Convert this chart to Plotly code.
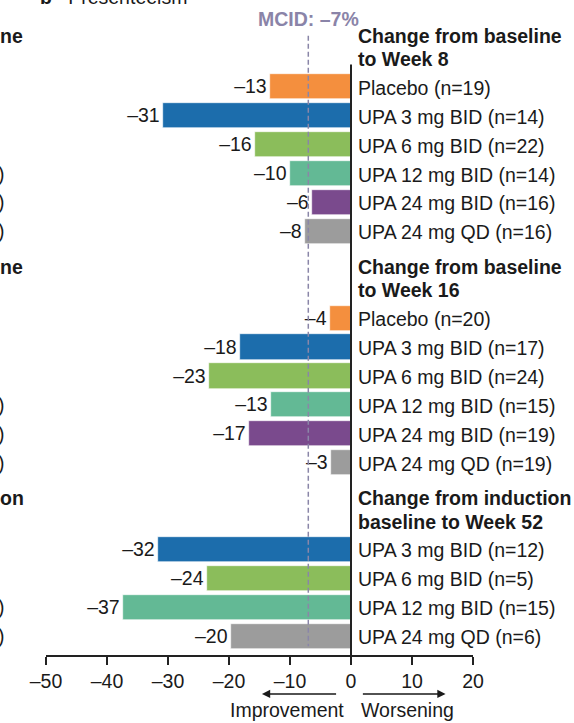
import plotly.graph_objects as go

# ---------------- data ----------------
w8_labels = ["Placebo (n=19)", "UPA 3 mg BID (n=14)", "UPA 6 mg BID (n=22)",
             "UPA 12 mg BID (n=14)", "UPA 24 mg BID (n=16)", "UPA 24 mg QD (n=16)"]
w8_values = [-13, -31, -16, -10, -6, -8]
w8_bar = [-13.2, -30.8, -15.8, -10.0, -6.4, -7.6]

w16_labels = ["Placebo (n=20)", "UPA 3 mg BID (n=17)", "UPA 6 mg BID (n=24)",
              "UPA 12 mg BID (n=15)", "UPA 24 mg BID (n=19)", "UPA 24 mg QD (n=19)"]
w16_values = [-4, -18, -23, -13, -17, -3]
w16_bar = [-3.5, -18.2, -23.2, -13.1, -16.8, -3.2]

w52_labels = ["UPA 3 mg BID (n=12)", "UPA 6 mg BID (n=5)",
              "UPA 12 mg BID (n=15)", "UPA 24 mg QD (n=6)"]
w52_values = [-32, -24, -37, -20]
w52_bar = [-31.6, -23.6, -37.3, -19.7]

headers = [["Change from baseline", "to Week 8"],
           ["Change from baseline", "to Week 16"],
           ["Change from induction", "baseline to Week 52"]]

tick_vals = [-50, -40, -30, -20, -10, 0, 10, 20]
tick_text = ["–50", "–40", "–30", "–20", "–10", "0", "10", "20"]
mcid = -7

C = {"Placebo": "#F48F3E", "3": "#1C6DAC", "6": "#8BBD5B",
     "12": "#63B995", "24B": "#7A4A8D", "24Q": "#9C9C9C"}
w8_colors = [C["Placebo"], C["3"], C["6"], C["12"], C["24B"], C["24Q"]]
w16_colors = w8_colors
w52_colors = [C["3"], C["6"], C["12"], C["24Q"]]

# slot positions (rows, top to bottom)
w8_slots = [2, 3, 4, 5, 6, 7]
w16_slots = [10, 11, 12, 13, 14, 15]
w52_slots = [18, 19, 20, 21]
header_slots = [0, 8, 16]

FONT = "Liberation Sans, Arial, sans-serif"
FS = 19.5
TXT = "#1a1a1a"

labels = w8_labels + w16_labels + w52_labels
values = w8_values + w16_values + w52_values
bars = w8_bar + w16_bar + w52_bar
slots = w8_slots + w16_slots + w52_slots
colors = w8_colors + w16_colors + w52_colors

fig = go.Figure()
fig.add_trace(go.Bar(
    x=bars, y=slots, orientation="h", width=0.87,
    marker=dict(color=colors, line=dict(color="white", width=0.6)),
    text=["–%d" % abs(v) for v in values], textposition="outside",
    textfont=dict(family=FONT, size=FS, color=TXT),
    cliponaxis=False, hoverinfo="skip", showlegend=False,
))

ann = []
# right-hand labels
for s, lab in zip(slots, labels):
    ann.append(dict(x=0, y=s, xref="x", yref="y", text=lab, showarrow=False,
                    xanchor="left", yanchor="middle", xshift=5, yshift=-1,
                    font=dict(family=FONT, size=FS, color=TXT)))
# headers
for hs, (l1, l2) in zip(header_slots, headers):
    for k, t in enumerate([l1, l2]):
        ann.append(dict(x=0, y=hs + 0.235 + 0.8 * k, xref="x", yref="y",
                        text="<b>%s</b>" % t, showarrow=False,
                        xanchor="left", yanchor="middle", xshift=5,
                        font=dict(family=FONT, size=FS, color=TXT)))
# MCID label
ann.append(dict(x=mcid, y=1.016, xref="x", yref="paper", text="<b>MCID: –7%</b>",
                showarrow=False, xanchor="center", yanchor="middle",
                font=dict(family=FONT, size=FS, color="#8A84A8")))
# direction arrows
AY = -0.0623
ann.append(dict(x=-14.6, y=AY, xref="x", yref="paper", ax=-2.2, ay=0,
                axref="x", ayref="pixel", text="", showarrow=True,
                arrowhead=2, arrowsize=1.1, arrowwidth=1.5, arrowcolor=TXT))
ann.append(dict(x=15.5, y=AY, xref="x", yref="paper", ax=1.7, ay=0,
                axref="x", ayref="pixel", text="", showarrow=True,
                arrowhead=2, arrowsize=1.1, arrowwidth=1.5, arrowcolor=TXT))
ann.append(dict(x=-10.5, y=-0.0879, xref="x", yref="paper", text="Improvement",
                showarrow=False, xanchor="center", yanchor="middle",
                font=dict(family=FONT, size=FS, color=TXT)))
ann.append(dict(x=9.2, y=-0.0879, xref="x", yref="paper", text="Worsening",
                showarrow=False, xanchor="center", yanchor="middle",
                font=dict(family=FONT, size=FS, color=TXT)))
# fragments of the neighbouring panel (cropped in the reference)
PX0 = -46.0 / 427.0
for hs, frag in zip(header_slots, ["ne", "ne", "on"]):
    ann.append(dict(x=PX0, y=hs + 0.235, xref="paper", yref="y",
                    text="<b>%s</b>" % frag, showarrow=False, xanchor="left",
                    yanchor="middle", xshift=-2,
                    font=dict(family=FONT, size=FS, color=TXT)))
for s in [5, 6, 7, 13, 14, 15, 20, 21]:
    ann.append(dict(x=PX0, y=s, xref="paper", yref="y", text=")",
                    showarrow=False, xanchor="left", yanchor="middle", xshift=-4,
                    font=dict(family=FONT, size=FS, color=TXT)))
ann.append(dict(x=-8.0 / 427.0, y=1.030, xref="paper", yref="paper",
                text="<b>b</b>   Presenteeism", showarrow=False, xanchor="left",
                yanchor="bottom", font=dict(family=FONT, size=FS, color=TXT)))

shapes = [
    dict(type="line", xref="x", yref="y", x0=mcid, x1=mcid, y0=0.235, y1=21.35,
         line=dict(color="#8A86A8", width=1.5, dash="5px,3px"), layer="above"),
    dict(type="line", xref="x", yref="y", x0=0, x1=0, y0=1.23, y1=21.65,
         line=dict(color="#222222", width=2), layer="above"),
]

fig.update_layout(
    width=574, height=723,
    margin=dict(l=46, r=101, t=29, b=68),
    paper_bgcolor="white", plot_bgcolor="white",
    annotations=ann, shapes=shapes, bargap=0,
    xaxis=dict(range=[-50, 20], tickvals=tick_vals, ticktext=tick_text,
               showgrid=False, zeroline=False, showline=True, linecolor="#222222",
               linewidth=1.5, ticks="outside", ticklen=8, tickwidth=1.5,
               tickcolor="#222222",
               tickfont=dict(family=FONT, size=FS, color=TXT)),
    yaxis=dict(range=[21.65, 0], showgrid=False, zeroline=False, showline=False,
               showticklabels=False, ticks=""),
    font=dict(family=FONT, size=FS, color=TXT),
)

fig.write_html("out.html", config={"displayModeBar": False},
               post_script="document.body.style.margin='0';document.body.style.overflow='hidden';")
